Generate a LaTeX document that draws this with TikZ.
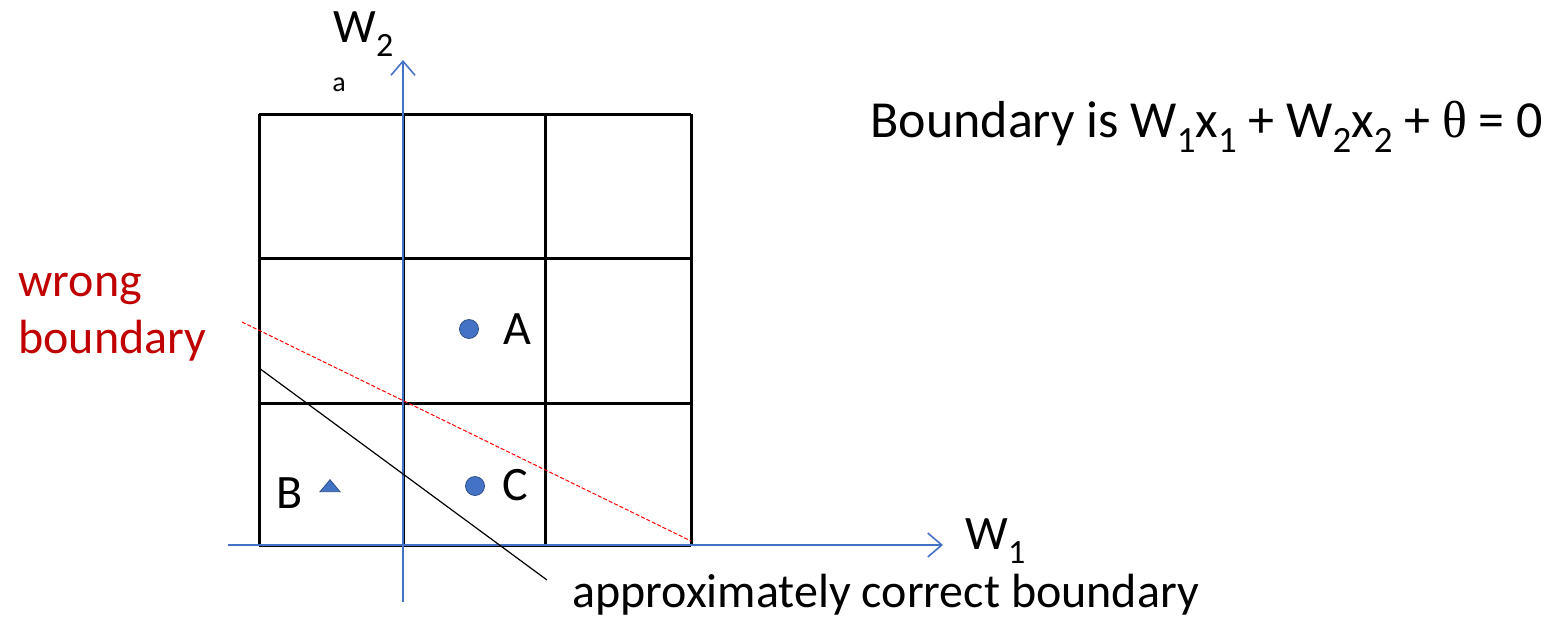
\documentclass[tikz,border=0pt]{standalone}
\usepackage{fontspec}
\setmainfont{Carlito}
\newfontfamily\thetafont{Liberation Serif}
\usetikzlibrary{arrows.meta,shapes.geometric}
\definecolor{axisblue}{HTML}{4472C4}
\definecolor{ptblue}{HTML}{4472C4}
\definecolor{wrongred}{HTML}{C00000}
\newcommand{\lowsub}[1]{\raisebox{-0.6ex}{\fontsize{17}{17}\selectfont #1}}
\newcommand{\eqsub}[1]{\raisebox{-0.6ex}{\fontsize{18.5}{18.5}\selectfont #1}}

\begin{document}
\begin{tikzpicture}[
  x=0.5pt, y=-0.5pt,
  grid/.style={draw=black, line width=1.5pt},
  axis/.style={draw=axisblue, line width=0.8pt, -{Straight Barb[length=7pt, width=12pt]}},
  pt/.style={circle, draw=ptblue!70!black, fill=ptblue, minimum size=9.5pt, inner sep=0pt},
  tri/.style={isosceles triangle, isosceles triangle apex angle=75, isosceles triangle stretches,
              shape border rotate=90, draw=ptblue!70!black, fill=ptblue,
              minimum height=6pt, minimum width=10pt, inner sep=0pt},
  lbl/.style={font=\fontsize{24}{29}\selectfont, inner sep=0pt},
]
\useasboundingbox (0,0) rectangle (1563,618);
% grid
\foreach \x in {259,403,545,691} \draw[grid] (\x,114) -- (\x,545);
\foreach \y in {114,258,403,545} \draw[grid] (259,\y) -- (691,\y);
% axes
\coordinate (w1s) at (228,545);
\coordinate (w1e) at (943,545);
\coordinate (w2s) at (403,602);
\coordinate (w2e) at (403,60);
\draw[axis] (w1s) -- (w1e);
\draw[axis] (w2s) -- (w2e);
\node[lbl, anchor=west] (w1) at (965,541) {W\lowsub{1}};
\node[lbl, anchor=west] (w2) at (333,34) {W\lowsub{2}};
\node[font=\fontsize{14}{16}\selectfont, inner sep=0pt] (a) at (339,85) {a};
% boundaries
\coordinate (rs) at (242,322);
\coordinate (re) at (691,541);
\coordinate (bs) at (259,368);
\coordinate (be) at (547,580);
\draw[red, dashed, dash pattern=on 2pt off 1pt, line width=0.5pt] (rs) -- (re);
\draw[black, line width=0.6pt] (bs) -- (be);
% points
\node[pt] (A) at (469,329) {};
\node[lbl, anchor=west] (la) at (503,329) {A};
\node[pt] (C) at (475,486) {};
\node[lbl, anchor=west] (lc) at (502,485) {C};
\node[tri] (B) at (330,487) {};
\node[lbl] (lb) at (290,493) {B};
% texts
\node[lbl, text=wrongred, align=left, anchor=north west, font=\fontsize{24}{28.5}\selectfont]
  (wrong) at (18,273) {wrong\\boundary};
\node[lbl, anchor=west, font=\fontsize{26}{31}\selectfont] (eq) at (870,127)
  {Boundary is W\eqsub{1}x\eqsub{1} + W\eqsub{2}x\eqsub{2} + {\thetafont θ} = 0};
\node[lbl, anchor=west] (corr) at (572,595) {approximately correct boundary};
\end{tikzpicture}
\end{document}
